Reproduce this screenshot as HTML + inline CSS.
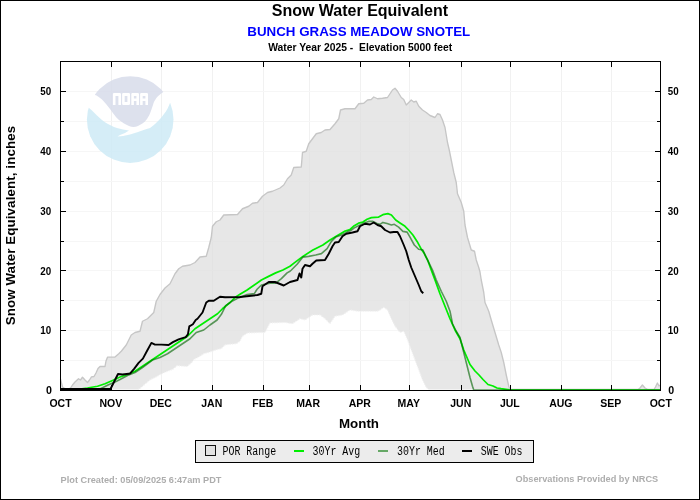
<!DOCTYPE html>
<html><head><meta charset="utf-8">
<style>
html,body{margin:0;padding:0;background:#fff;}
body{width:700px;height:500px;overflow:hidden;position:relative;font-family:"Liberation Sans",sans-serif;}
svg{position:absolute;left:0;top:0;will-change:transform;}
text{font-family:"Liberation Sans",sans-serif;font-weight:bold;}
.mono{font-family:"Liberation Mono",monospace;font-weight:normal;}
</style></head><body>
<svg width="700" height="500" viewBox="0 0 700 500">
<rect x="0.5" y="0.5" width="699" height="499" fill="#fff" stroke="#000" stroke-width="1"/>
<!-- titles -->
<text x="359.9" y="16" font-size="16" text-anchor="middle">Snow Water Equivalent</text>
<text x="358.8" y="35.7" font-size="13.33" text-anchor="middle" fill="#0000ff">BUNCH GRASS MEADOW SNOTEL</text>
<text x="268.2" y="50.7" font-size="10.3" textLength="184" lengthAdjust="spacingAndGlyphs" xml:space="preserve">Water Year 2025 -  Elevation 5000 feet</text>
<g stroke-width="1" shape-rendering="crispEdges">
<line x1="111.5" y1="62" x2="111.5" y2="390" stroke="#f1f1f1"/>
<line x1="161.5" y1="62" x2="161.5" y2="390" stroke="#f1f1f1"/>
<line x1="212.5" y1="62" x2="212.5" y2="390" stroke="#f1f1f1"/>
<line x1="263.5" y1="62" x2="263.5" y2="390" stroke="#f1f1f1"/>
<line x1="309.5" y1="62" x2="309.5" y2="390" stroke="#f1f1f1"/>
<line x1="360.5" y1="62" x2="360.5" y2="390" stroke="#f1f1f1"/>
<line x1="409.5" y1="62" x2="409.5" y2="390" stroke="#f1f1f1"/>
<line x1="461.5" y1="62" x2="461.5" y2="390" stroke="#f1f1f1"/>
<line x1="510.5" y1="62" x2="510.5" y2="390" stroke="#f1f1f1"/>
<line x1="561.5" y1="62" x2="561.5" y2="390" stroke="#f1f1f1"/>
<line x1="611.5" y1="62" x2="611.5" y2="390" stroke="#f1f1f1"/>
<line x1="61" y1="360.60" x2="660" y2="360.60" stroke="#f6f6f6"/>
<line x1="61" y1="330.70" x2="660" y2="330.70" stroke="#f6f6f6"/>
<line x1="61" y1="300.80" x2="660" y2="300.80" stroke="#f6f6f6"/>
<line x1="61" y1="270.90" x2="660" y2="270.90" stroke="#f6f6f6"/>
<line x1="61" y1="241.00" x2="660" y2="241.00" stroke="#f6f6f6"/>
<line x1="61" y1="211.10" x2="660" y2="211.10" stroke="#f6f6f6"/>
<line x1="61" y1="181.20" x2="660" y2="181.20" stroke="#f6f6f6"/>
<line x1="61" y1="151.30" x2="660" y2="151.30" stroke="#f6f6f6"/>
<line x1="61" y1="121.40" x2="660" y2="121.40" stroke="#f6f6f6"/>
<line x1="61" y1="91.50" x2="660" y2="91.50" stroke="#f6f6f6"/>
</g>
<!-- noaa logo -->
<g id="logo" opacity="0.85">
<defs><clipPath id="lc"><circle cx="130.2" cy="119.6" r="43.3"/></clipPath></defs>
<g clip-path="url(#lc)">
<path d="M95,95 L92,70 L168,70 L164,91.6 C160,94.4 157.5,96.5 156.4,98 C155,100 154.2,101.5 153.6,103 C153,105 152.5,106.5 152,108 L150,113.6 C149,116 148,117.5 147,119 C145.5,121 144,122.5 142.4,123.6 C141,124.6 139.5,125.4 138,126 C136.5,126.6 135,127 133.6,127 C132,127 130.5,126.6 129,126 C127.3,125.4 125.6,124.6 124,123.6 C122.3,122.5 120.6,121.3 119,120 C117.2,118.3 115.5,116.4 114,114.4 L110,109 L106,104 C104.7,102.4 103.4,101 102,99.6 C100.7,98.4 99.4,97.3 98,96.4 C97,95.8 96,95.3 95,95 Z" fill="#d8dceb"/>
<path d="M88,107 C89.3,108 90.6,109.2 92,110.6 L97,115.6 C98.6,117.2 100.3,118.7 102,120 C104,121.5 106,122.9 108,124 C110,125.1 112,126.1 114,127 C116,127.8 118,128.4 120,128.8 C122,129.3 124,129.7 126,130 L129,130.6 L125,133 L120,135 L117.6,136.4 L123,136 L130,134.4 L138,132 L145,129.6 L150,128 C151.8,126.8 153.4,125.5 155,124 C156.8,122.4 158.4,120.8 160,119 C161.5,117.4 162.8,115.7 164,114 C165.3,112.2 166.5,110.4 167.6,108.4 C168.5,106.7 169.3,104.9 170,103 L180,103 L180,170 L80,170 L80,107 Z" fill="#ceebf6"/>
</g>
<path d="M112.9,104.9 V94.1 Q112.9,92.9 114.1,92.9 H119.8 Q121.0,92.9 121.0,94.1 V104.9 H118.4 V95.9 H115.5 V104.9 Z M122.1,103.7 V94.1 Q122.1,92.9 123.3,92.9 H128.8 Q130.0,92.9 130.0,94.1 V103.7 Q130.0,104.9 128.8,104.9 H123.3 Q122.1,104.9 122.1,103.7 Z M124.7,95.9 V101.9 H127.4 V95.9 Z M131.3,104.9 V94.1 Q131.3,92.9 132.5,92.9 H137.8 Q139.0,92.9 139.0,94.1 V104.9 H136.4 V101.0 H133.9 V104.9 Z M133.9,95.9 V98.4 H136.4 V95.9 Z M140.1,104.9 V94.1 Q140.1,92.9 141.3,92.9 H146.8 Q148.0,92.9 148.0,94.1 V104.9 H145.4 V101.0 H142.7 V104.9 Z M142.7,95.9 V98.4 H145.4 V95.9 Z" fill="#fff" fill-rule="evenodd"/>
</g>
<!-- POR range -->
<polygon points="60.50,379.00 61.50,383.00 62.50,387.00 64.50,388.50 68.00,389.20 70.50,388.20 72.50,385.00 75.00,382.00 78.50,378.80 80.50,380.00 82.50,377.20 85.00,380.00 87.50,382.50 89.50,380.00 91.50,376.80 94.00,376.50 96.00,373.00 98.00,368.50 100.00,366.50 105.00,366.50 106.00,361.00 107.50,357.20 115.00,357.00 119.00,353.50 121.50,351.00 126.25,345.00 131.25,335.00 135.00,332.50 140.00,331.25 142.50,321.25 147.50,318.75 153.75,312.50 156.25,301.25 160.00,294.50 165.00,288.00 170.00,283.75 175.00,273.75 178.75,268.75 182.50,266.25 190.00,265.00 195.00,262.50 200.00,257.00 206.25,256.25 208.75,247.50 211.25,237.50 212.50,226.25 216.25,221.75 220.00,220.00 223.75,215.00 237.50,214.50 242.50,208.75 248.75,206.25 252.50,203.25 257.50,202.50 262.50,196.25 267.50,192.50 272.50,191.25 280.00,188.00 283.75,185.00 287.50,178.75 291.25,175.00 293.75,167.50 301.25,167.00 302.50,152.50 306.25,151.25 308.75,143.75 312.50,138.75 316.25,133.75 321.25,132.50 325.00,130.00 330.00,129.50 335.00,123.75 338.75,118.75 340.50,110.00 345.00,108.75 355.00,108.75 358.75,103.75 363.75,103.25 367.50,100.00 371.25,99.50 373.75,97.00 377.50,98.75 382.50,98.25 387.50,97.50 390.00,93.75 392.50,90.00 395.00,88.25 397.50,91.25 401.25,97.50 403.75,99.50 406.25,105.00 408.75,102.50 411.25,100.00 413.75,102.00 416.25,101.25 418.75,106.25 422.50,110.00 426.25,112.50 430.00,115.50 435.00,117.50 437.50,113.75 440.00,114.50 442.50,120.00 445.00,127.50 447.50,142.50 449.25,150.00 451.25,160.00 453.75,172.50 456.25,182.50 457.50,193.75 461.25,202.50 463.75,211.25 465.00,225.00 467.50,237.50 471.25,250.00 474.50,251.25 476.25,260.00 478.75,267.50 480.00,272.00 481.25,280.00 483.75,292.50 485.00,302.50 488.75,311.25 491.25,320.00 495.00,332.50 498.75,345.00 501.25,352.50 503.75,362.50 506.25,375.00 508.75,386.25 510.00,389.50 638.00,389.50 640.00,388.00 642.40,385.00 645.00,388.00 648.00,389.50 654.00,389.50 655.50,387.00 657.40,383.00 659.00,386.00 660.00,385.00 660.00,389.50 428.75,389.50 426.25,387.50 422.50,380.00 418.75,370.00 415.00,360.00 411.25,350.00 407.50,340.00 403.75,331.25 400.00,332.50 395.00,326.25 391.25,318.75 387.50,310.00 383.75,307.50 380.00,310.00 377.50,311.25 367.50,311.25 357.50,311.25 350.00,310.00 342.50,315.00 335.00,316.25 330.00,323.75 325.00,318.75 320.00,315.00 312.50,315.00 305.00,320.00 300.00,318.75 292.50,323.75 285.00,322.50 270.00,323.00 265.00,332.50 247.50,333.00 242.50,336.25 240.00,341.25 236.25,343.75 230.00,344.30 225.00,345.00 221.40,348.60 215.70,350.00 210.00,352.10 204.30,353.60 198.60,357.10 194.30,359.30 191.40,362.90 187.10,366.40 177.10,365.70 172.90,369.30 165.70,372.10 160.70,374.30 157.10,376.40 150.00,380.00 145.70,383.60 140.00,388.60 138.00,389.50 60.00,389.50" fill="rgb(222,222,222)" fill-opacity="0.733" stroke="none"/>
<polyline points="60.50,379.00 61.50,383.00 62.50,387.00 64.50,388.50 68.00,389.20 70.50,388.20 72.50,385.00 75.00,382.00 78.50,378.80 80.50,380.00 82.50,377.20 85.00,380.00 87.50,382.50 89.50,380.00 91.50,376.80 94.00,376.50 96.00,373.00 98.00,368.50 100.00,366.50 105.00,366.50 106.00,361.00 107.50,357.20 115.00,357.00 119.00,353.50 121.50,351.00 126.25,345.00 131.25,335.00 135.00,332.50 140.00,331.25 142.50,321.25 147.50,318.75 153.75,312.50 156.25,301.25 160.00,294.50 165.00,288.00 170.00,283.75 175.00,273.75 178.75,268.75 182.50,266.25 190.00,265.00 195.00,262.50 200.00,257.00 206.25,256.25 208.75,247.50 211.25,237.50 212.50,226.25 216.25,221.75 220.00,220.00 223.75,215.00 237.50,214.50 242.50,208.75 248.75,206.25 252.50,203.25 257.50,202.50 262.50,196.25 267.50,192.50 272.50,191.25 280.00,188.00 283.75,185.00 287.50,178.75 291.25,175.00 293.75,167.50 301.25,167.00 302.50,152.50 306.25,151.25 308.75,143.75 312.50,138.75 316.25,133.75 321.25,132.50 325.00,130.00 330.00,129.50 335.00,123.75 338.75,118.75 340.50,110.00 345.00,108.75 355.00,108.75 358.75,103.75 363.75,103.25 367.50,100.00 371.25,99.50 373.75,97.00 377.50,98.75 382.50,98.25 387.50,97.50 390.00,93.75 392.50,90.00 395.00,88.25 397.50,91.25 401.25,97.50 403.75,99.50 406.25,105.00 408.75,102.50 411.25,100.00 413.75,102.00 416.25,101.25 418.75,106.25 422.50,110.00 426.25,112.50 430.00,115.50 435.00,117.50 437.50,113.75 440.00,114.50 442.50,120.00 445.00,127.50 447.50,142.50 449.25,150.00 451.25,160.00 453.75,172.50 456.25,182.50 457.50,193.75 461.25,202.50 463.75,211.25 465.00,225.00 467.50,237.50 471.25,250.00 474.50,251.25 476.25,260.00 478.75,267.50 480.00,272.00 481.25,280.00 483.75,292.50 485.00,302.50 488.75,311.25 491.25,320.00 495.00,332.50 498.75,345.00 501.25,352.50 503.75,362.50 506.25,375.00 508.75,386.25 510.00,389.50 638.00,389.50 640.00,388.00 642.40,385.00 645.00,388.00 648.00,389.50 654.00,389.50 655.50,387.00 657.40,383.00 659.00,386.00 660.00,385.00" fill="none" stroke="#c6c6c6" stroke-width="1.35" stroke-linejoin="round"/>
<polyline points="138.00,389.50 140.00,388.60 145.70,383.60 150.00,380.00 157.10,376.40 160.70,374.30 165.70,372.10 172.90,369.30 177.10,365.70 187.10,366.40 191.40,362.90 194.30,359.30 198.60,357.10 204.30,353.60 210.00,352.10 215.70,350.00 221.40,348.60 225.00,345.00 230.00,344.30 236.25,343.75 240.00,341.25 242.50,336.25 247.50,333.00 265.00,332.50 270.00,323.00 285.00,322.50 292.50,323.75 300.00,318.75 305.00,320.00 312.50,315.00 320.00,315.00 325.00,318.75 330.00,323.75 335.00,316.25 342.50,315.00 350.00,310.00 357.50,311.25 367.50,311.25 377.50,311.25 380.00,310.00 383.75,307.50 387.50,310.00 391.25,318.75 395.00,326.25 400.00,332.50 403.75,331.25 407.50,340.00 411.25,350.00 415.00,360.00 418.75,370.00 422.50,380.00 426.25,387.50 428.75,389.50" fill="none" stroke="#f2f2f2" stroke-width="1.2" stroke-dasharray="1.2,1.2"/>
<polyline points="60.00,389.00 80.00,389.00 87.50,388.00 97.50,386.25 105.00,383.75 112.50,380.50 120.00,377.00 127.50,374.50 135.00,371.25 142.50,366.25 150.00,361.25 157.50,356.25 165.00,351.25 172.50,346.25 180.00,341.25 187.50,336.25 195.00,328.75 202.50,323.75 210.00,318.75 217.50,313.75 222.50,308.75 230.00,302.50 235.00,297.50 240.00,294.30 247.10,290.00 254.30,285.00 261.40,280.00 268.60,276.40 275.70,272.90 282.90,270.00 290.00,266.30 294.30,262.90 302.90,256.40 312.90,250.00 322.90,245.00 330.00,240.00 337.10,235.70 344.30,231.40 350.00,229.50 354.30,225.70 358.60,223.20 362.90,222.10 367.10,219.30 371.40,217.60 378.60,217.10 382.90,214.70 387.90,213.60 391.40,215.00 395.70,220.00 400.00,222.90 404.30,225.70 408.60,230.00 412.90,235.00 417.10,241.40 421.40,249.30 424.30,253.60 427.90,260.70 431.25,270.00 435.00,280.00 440.00,293.75 445.00,306.25 450.00,318.75 455.00,330.00 460.00,338.75 463.75,350.00 467.50,358.75 470.00,364.50 475.00,371.00 479.00,375.00 483.00,379.50 488.00,384.50 493.00,386.00 497.00,388.00 501.00,388.70 506.00,389.40 510.00,390.00 660.00,390.00" fill="none" stroke="#00ee00" stroke-width="1.75" stroke-linejoin="round"/>
<polyline points="60.00,389.00 100.00,389.00 104.00,387.00 108.00,385.00 115.00,382.00 120.00,379.50 127.50,375.50 135.00,372.50 142.50,367.50 152.50,360.00 160.00,357.50 167.50,353.75 175.00,348.75 182.50,343.75 190.00,338.75 196.25,332.50 203.75,330.00 210.00,325.00 217.10,320.00 221.40,314.30 225.70,305.70 232.90,300.70 238.60,297.90 247.10,294.60 254.30,293.60 257.10,289.30 261.40,285.00 270.00,283.10 275.70,283.10 281.40,278.60 287.10,272.90 290.00,271.25 291.40,270.00 297.10,264.30 302.90,257.10 308.60,256.40 315.70,255.00 321.40,253.60 327.10,248.60 331.40,241.40 335.70,237.10 341.40,235.00 347.10,232.10 351.40,230.20 354.30,227.90 358.60,225.70 362.90,223.60 368.60,221.40 372.90,221.40 377.10,223.40 380.00,224.30 382.90,222.40 387.10,223.60 391.40,225.00 394.30,224.30 398.60,227.10 402.90,231.40 407.10,232.10 410.00,237.10 414.30,245.00 418.60,249.30 422.90,250.00 425.70,256.40 428.60,262.10 432.50,270.00 436.25,280.00 441.25,291.25 446.25,301.25 450.00,311.25 452.50,323.75 456.25,331.25 460.00,337.50 462.50,347.50 465.00,357.50 467.50,367.50 470.00,377.50 472.50,386.25 473.75,390.00 660.00,390.00" fill="none" stroke="#006400" stroke-opacity="0.62" stroke-width="1.6" stroke-linejoin="round"/>
<polyline points="60.00,389.00 110.50,389.00 112.50,385.00 115.00,380.00 118.00,374.00 122.50,374.50 128.75,373.75 130.00,373.60 134.30,368.60 138.60,362.90 142.90,358.60 147.10,350.70 151.40,342.90 155.00,344.60 161.40,344.60 168.60,345.00 172.90,342.10 178.60,339.30 185.70,337.10 187.90,334.30 189.30,326.40 192.90,324.30 195.70,320.00 197.50,318.75 202.50,312.50 206.25,302.50 208.75,300.75 213.75,300.75 220.00,296.75 225.00,297.25 240.00,297.00 257.50,295.00 261.25,293.75 262.50,286.25 268.75,282.00 275.00,282.00 283.75,285.50 290.00,282.00 297.50,280.00 299.50,273.50 301.25,277.50 302.50,268.75 305.00,265.00 310.00,266.25 312.50,263.75 316.25,260.50 325.00,260.00 328.75,253.75 332.50,246.25 335.00,242.50 338.75,242.00 342.50,236.25 346.25,233.75 352.50,232.50 357.50,231.25 360.00,226.25 365.00,223.75 370.00,224.50 373.75,222.50 377.50,225.00 381.25,226.25 385.00,230.00 390.00,232.50 393.75,232.00 397.50,232.00 400.00,236.25 403.75,245.00 406.25,251.25 408.75,260.00 411.25,267.50 415.00,276.25 418.75,285.00 421.25,291.25 423.25,293.25" fill="none" stroke="#000" stroke-width="1.9" stroke-linejoin="round"/>
<rect x="60.5" y="61.5" width="600" height="329" fill="none" stroke="#000" stroke-width="1" shape-rendering="crispEdges"/>
<g stroke="#000" stroke-width="1" shape-rendering="crispEdges">
<line x1="111.5" y1="62" x2="111.5" y2="67"/>
<line x1="111.5" y1="385" x2="111.5" y2="390"/>
<line x1="161.5" y1="62" x2="161.5" y2="67"/>
<line x1="161.5" y1="385" x2="161.5" y2="390"/>
<line x1="212.5" y1="62" x2="212.5" y2="67"/>
<line x1="212.5" y1="385" x2="212.5" y2="390"/>
<line x1="263.5" y1="62" x2="263.5" y2="67"/>
<line x1="263.5" y1="385" x2="263.5" y2="390"/>
<line x1="309.5" y1="62" x2="309.5" y2="67"/>
<line x1="309.5" y1="385" x2="309.5" y2="390"/>
<line x1="360.5" y1="62" x2="360.5" y2="67"/>
<line x1="360.5" y1="385" x2="360.5" y2="390"/>
<line x1="409.5" y1="62" x2="409.5" y2="67"/>
<line x1="409.5" y1="385" x2="409.5" y2="390"/>
<line x1="461.5" y1="62" x2="461.5" y2="67"/>
<line x1="461.5" y1="385" x2="461.5" y2="390"/>
<line x1="510.5" y1="62" x2="510.5" y2="67"/>
<line x1="510.5" y1="385" x2="510.5" y2="390"/>
<line x1="561.5" y1="62" x2="561.5" y2="67"/>
<line x1="561.5" y1="385" x2="561.5" y2="390"/>
<line x1="611.5" y1="62" x2="611.5" y2="67"/>
<line x1="611.5" y1="385" x2="611.5" y2="390"/>
<line x1="61" y1="360.60" x2="64" y2="360.60"/>
<line x1="657" y1="360.60" x2="660" y2="360.60"/>
<line x1="61" y1="330.70" x2="66" y2="330.70"/>
<line x1="655" y1="330.70" x2="660" y2="330.70"/>
<line x1="61" y1="300.80" x2="64" y2="300.80"/>
<line x1="657" y1="300.80" x2="660" y2="300.80"/>
<line x1="61" y1="270.90" x2="66" y2="270.90"/>
<line x1="655" y1="270.90" x2="660" y2="270.90"/>
<line x1="61" y1="241.00" x2="64" y2="241.00"/>
<line x1="657" y1="241.00" x2="660" y2="241.00"/>
<line x1="61" y1="211.10" x2="66" y2="211.10"/>
<line x1="655" y1="211.10" x2="660" y2="211.10"/>
<line x1="61" y1="181.20" x2="64" y2="181.20"/>
<line x1="657" y1="181.20" x2="660" y2="181.20"/>
<line x1="61" y1="151.30" x2="66" y2="151.30"/>
<line x1="655" y1="151.30" x2="660" y2="151.30"/>
<line x1="61" y1="121.40" x2="64" y2="121.40"/>
<line x1="657" y1="121.40" x2="660" y2="121.40"/>
<line x1="61" y1="91.50" x2="66" y2="91.50"/>
<line x1="655" y1="91.50" x2="660" y2="91.50"/>
</g>
<g font-size="10.5">
<text x="46.0" y="394.1" font-size="10.67">0</text>
<text x="668.2" y="394.1" font-size="10.67">0</text>
<text x="40.3" y="334.3" font-size="10.67" textLength="10.9" lengthAdjust="spacingAndGlyphs">10</text>
<text x="667.8" y="334.3" font-size="10.67" textLength="10.9" lengthAdjust="spacingAndGlyphs">10</text>
<text x="40.3" y="274.5" font-size="10.67" textLength="10.9" lengthAdjust="spacingAndGlyphs">20</text>
<text x="667.8" y="274.5" font-size="10.67" textLength="10.9" lengthAdjust="spacingAndGlyphs">20</text>
<text x="40.3" y="214.7" font-size="10.67" textLength="10.9" lengthAdjust="spacingAndGlyphs">30</text>
<text x="667.8" y="214.7" font-size="10.67" textLength="10.9" lengthAdjust="spacingAndGlyphs">30</text>
<text x="40.3" y="154.9" font-size="10.67" textLength="10.9" lengthAdjust="spacingAndGlyphs">40</text>
<text x="667.8" y="154.9" font-size="10.67" textLength="10.9" lengthAdjust="spacingAndGlyphs">40</text>
<text x="40.3" y="95.1" font-size="10.67" textLength="10.9" lengthAdjust="spacingAndGlyphs">50</text>
<text x="667.8" y="95.1" font-size="10.67" textLength="10.9" lengthAdjust="spacingAndGlyphs">50</text>
<text x="60.5" y="407.3" text-anchor="middle">OCT</text>
<text x="110.8" y="407.3" text-anchor="middle">NOV</text>
<text x="160.8" y="407.3" text-anchor="middle">DEC</text>
<text x="211.8" y="407.3" text-anchor="middle">JAN</text>
<text x="262.8" y="407.3" text-anchor="middle">FEB</text>
<text x="308.1" y="407.3" text-anchor="middle">MAR</text>
<text x="359.8" y="407.3" text-anchor="middle">APR</text>
<text x="408.8" y="407.3" text-anchor="middle">MAY</text>
<text x="460.8" y="407.3" text-anchor="middle">JUN</text>
<text x="509.8" y="407.3" text-anchor="middle">JUL</text>
<text x="560.8" y="407.3" text-anchor="middle">AUG</text>
<text x="610.8" y="407.3" text-anchor="middle">SEP</text>
<text x="660.8" y="407.3" text-anchor="middle">OCT</text>
</g>
<text x="359" y="428" font-size="13.33" text-anchor="middle">Month</text>
<text transform="translate(15.3,225.6) rotate(-90)" font-size="13.33" text-anchor="middle" textLength="199.5" lengthAdjust="spacing">Snow Water Equivalent, inches</text>
<!-- legend -->
<rect x="195.5" y="440.5" width="338" height="22" fill="#ececec" stroke="#000" stroke-width="1" shape-rendering="crispEdges"/>
<rect x="205.5" y="445.5" width="10" height="10" fill="#e2e2e2" stroke="#111" stroke-width="1" shape-rendering="crispEdges"/>
<line x1="294" y1="451" x2="304" y2="451" stroke="#00ee00" stroke-width="2"/>
<line x1="378" y1="451" x2="388" y2="451" stroke="#66a866" stroke-width="2"/>
<line x1="462" y1="451" x2="472" y2="451" stroke="#000" stroke-width="2"/>
<text class="mono" x="222.5" y="455" font-size="12" textLength="53.7" lengthAdjust="spacingAndGlyphs" xml:space="preserve">POR Range</text>
<text class="mono" x="312.5" y="455" font-size="12" textLength="47.7" lengthAdjust="spacingAndGlyphs" xml:space="preserve">30Yr Avg</text>
<text class="mono" x="397" y="455" font-size="12" textLength="47.7" lengthAdjust="spacingAndGlyphs" xml:space="preserve">30Yr Med</text>
<text class="mono" x="480.8" y="455" font-size="12" textLength="41.7" lengthAdjust="spacingAndGlyphs" xml:space="preserve">SWE Obs</text>
<g font-size="9.3" fill="#adadad">
<text transform="translate(60.6,483.2) scale(1,1.07)" x="0" y="0" textLength="160.8" lengthAdjust="spacingAndGlyphs">Plot Created: 05/09/2025 6:47am PDT</text>
<text transform="translate(515.6,482.1) scale(1,1.07)" x="0" y="0" textLength="142.6" lengthAdjust="spacingAndGlyphs">Observations Provided by NRCS</text>
</g>
</svg>
</body></html>
